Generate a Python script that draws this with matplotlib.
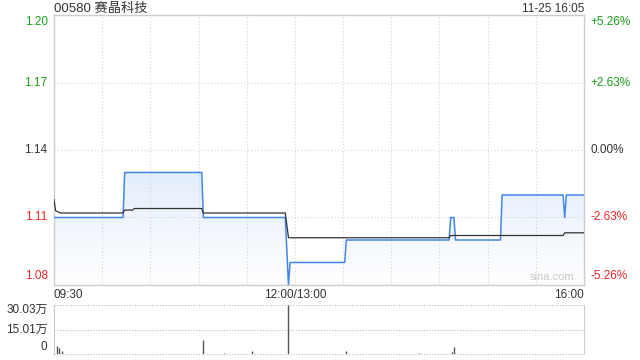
import numpy as np
import matplotlib
matplotlib.use("Agg")
import matplotlib.pyplot as plt

plt.rcParams['font.family'] = ['Liberation Sans', 'Noto Sans CJK SC', 'DejaVu Sans']

# 股票信息
title = "00580 赛晶科技"
stamp = "11-25 16:05"
prev_close = 1.14

# 价格 (分钟序号, 0 = 09:30, 150 = 12:00/13:00, 330 = 16:00)
price_min = [0, 43, 44, 92, 93, 144, 146, 147, 181, 182, 246, 247, 249, 250, 278, 279, 317, 318, 319, 330]
price_val = [1.11, 1.11, 1.13, 1.13, 1.11, 1.11, 1.08, 1.09, 1.09, 1.10, 1.10, 1.11, 1.11, 1.10,
             1.10, 1.12, 1.12, 1.11, 1.12, 1.12]

# 均价
avg_min = [0, 1, 4, 43, 44, 49, 50, 92, 93, 144, 146, 246, 247, 317, 318, 330]
avg_val = [1.118, 1.113, 1.112, 1.112, 1.1133, 1.1133, 1.114, 1.114, 1.112, 1.112, 1.101, 1.101,
           1.102, 1.102, 1.1032, 1.1032]

# 成交量 (万)
vol_min = [2, 3, 5, 93, 106, 123, 146, 182, 227, 248, 249]
vol_val = [5.2, 3.7, 1.6, 8.6, 0.8, 1.8, 30.03, 1.6, 0.8, 1.2, 4.3]

y_ticks = [1.20, 1.17, 1.14, 1.11, 1.08]
pct_ticks = ["+5.26%", "+2.63%", "0.00%", "-2.63%", "-5.26%"]
vol_ticks = [30.03, 15.01, 0]
vol_labels = ["30.03万", "15.01万", "0"]

green = "#1a9e1a"
red = "#e8262a"
dark = "#333333"
grid_c = "#cccccc"

fig = plt.figure(figsize=(6.4, 3.6), dpi=100)
ax = fig.add_axes([54/640, 75/360, 530/640, 270/360])
axv = fig.add_axes([54/640, 6/360, 530/640, 49/360])

# 主图
ax.set_xlim(0, 330)
ax.set_ylim(1.08, 1.20)
for s in ax.spines.values():
    s.set_color(grid_c)
    s.set_linewidth(1)
ax.set_xticks([])
ax.set_yticks([])
for m in range(30, 330, 30):
    ax.axvline(m, color="#d4d4d4", lw=0.8, ls=(0, (1, 2)))
for y in [1.11, 1.14, 1.17]:
    ax.axhline(y, color="#d4d4d4", lw=0.8, ls=(0, (1, 2)))

# 渐变填充
grad = np.linspace(0, 1, 256).reshape(-1, 1)
cmap = matplotlib.colors.LinearSegmentedColormap.from_list("g", ["#ffffff", "#e4eefc"])
poly = ax.fill_between(price_min, price_val, 1.08, color="none")
img = ax.imshow(grad, extent=[0, 330, 1.08, 1.13], origin="lower", aspect="auto",
                cmap=cmap, zorder=1)
img.set_clip_path(poly.get_paths()[0], transform=ax.transData)
ax.set_xlim(0, 330)
ax.set_ylim(1.08, 1.20)

ax.plot(price_min, price_val, color="#4287e8", lw=1.1, zorder=3)
ax.plot(avg_min, avg_val, color="#333333", lw=0.9, zorder=4)

ax.text(324, 1.0815, "sina.com", color="#c8c8c8", fontsize=8, ha="right", va="bottom")

# 刻度标签
for y, p in zip(y_ticks, pct_ticks):
    if y > prev_close + 1e-9:
        c = green
    elif y < prev_close - 1e-9:
        c = red
    else:
        c = dark
    va = "center"
    if y == 1.20:
        va = "top"
    if y == 1.08:
        va = "bottom"
    off = -0.0005 if va == "top" else (0.0015 if va == "bottom" else 0)
    ax.text(-4, y + off, f"{y:.2f}", color=c, fontsize=8.5, ha="right", va=va)
    ax.text(334, y + off, p, color=c, fontsize=8.5, ha="left", va=va)

ax.text(0, -0.015, "09:30", transform=ax.transAxes, fontsize=8.5, color=dark, ha="left", va="top")
ax.text(150, 1.08 - 0.12*0.015, "12:00/13:00", fontsize=8.5, color=dark, ha="center", va="top")
ax.text(1, -0.015, "16:00", transform=ax.transAxes, fontsize=8.5, color=dark, ha="right", va="top")

fig.text(54/640, 1 - 9/360, title, fontsize=9.5, color=dark, ha="left", va="center")
fig.text(584/640, 1 - 9/360, stamp, fontsize=8.5, color=dark, ha="right", va="center")

# 成交量
axv.set_xlim(0, 330)
axv.set_ylim(0, 30.03)
axv.set_xticks([])
axv.set_yticks([])
for k in ["top", "bottom"]:
    axv.spines[k].set_visible(False)
for k in ["left", "right"]:
    axv.spines[k].set_color(grid_c)
for y in vol_ticks:
    axv.axhline(y, color="#bbbbbb", lw=0.8, ls=(0, (1, 1.5)), zorder=1, clip_on=False)
axv.vlines(vol_min, 0, vol_val, color="#555555", lw=1, zorder=2)
for y, lab in zip(vol_ticks, vol_labels):
    va = "center"
    off = 0
    if y == 30.03:
        va = "top"
        off = 0.5
    if y == 0:
        va = "bottom"
        off = 0.6
    axv.text(-4, y + off, lab, fontsize=8.5, color=dark, ha="right", va=va)

fig.savefig("out.png", dpi=100)
